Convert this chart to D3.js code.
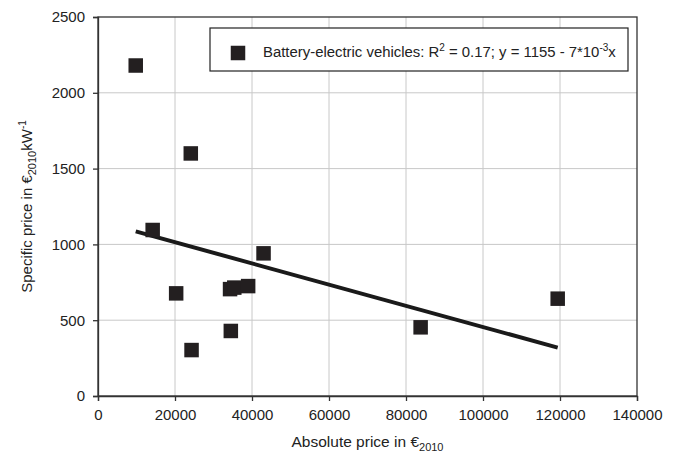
<!DOCTYPE html>
<html>
<head>
<meta charset="utf-8">
<script src="https://cdn.jsdelivr.net/npm/d3@7"></script>
<style>
  body { margin: 0; background: #fff; }
  svg { font-family: "Liberation Sans", Arial, sans-serif; }
</style>
</head>
<body>
<div id="container"></div>
<script>
// absolute price (EUR 2010) and specific price (EUR 2010 per kW)
const absPrice = [9800, 24100, 14200, 20300, 24300, 34500, 34300, 35400, 39000, 43000, 83800, 119400];
const specPrice = [2180, 1600, 1095, 677, 303, 429, 705, 715, 725, 941, 453, 642];
const trendX = [9800, 119400];
const trendY = [1086, 319];
const xTicks = [0, 20000, 40000, 60000, 80000, 100000, 120000, 140000];
const yTicks = [0, 500, 1000, 1500, 2000, 2500];

const width = 678;
const height = 458;
const margin = { top: 17, right: 41, bottom: 62, left: 98 };

const svg = d3.select('#container')
              .append('svg')
              .attr('width', width)
              .attr('height', height);

const x = d3.scaleLinear().domain([0, 140000]).range([margin.left, width - margin.right]);
const y = d3.scaleLinear().domain([0, 2500]).range([height - margin.bottom, margin.top]);

// grid
svg.append('g')
   .selectAll('line')
   .data(xTicks.slice(1, -1))
   .enter()
   .append('line')
   .attr('x1', d => x(d)).attr('x2', d => x(d))
   .attr('y1', y(0)).attr('y2', y(2500))
   .attr('stroke', '#c8c8c8').attr('stroke-width', 1);
svg.append('g')
   .selectAll('line')
   .data(yTicks.slice(1, -1))
   .enter()
   .append('line')
   .attr('x1', x(0)).attr('x2', x(140000))
   .attr('y1', d => y(d)).attr('y2', d => y(d))
   .attr('stroke', '#c8c8c8').attr('stroke-width', 1);

// frame
svg.append('rect')
   .attr('x', x(0)).attr('y', y(2500))
   .attr('width', x(140000) - x(0)).attr('height', y(0) - y(2500))
   .attr('fill', 'none').attr('stroke', '#333').attr('stroke-width', 1.3);

const xAxis = svg.append('g')
                 .attr('transform', 'translate(0,' + y(0) + ')')
                 .call(d3.axisBottom(x).tickValues(xTicks).tickFormat(d3.format('d')).tickSizeOuter(0).tickSize(5).tickPadding(8));
const yAxis = svg.append('g')
                 .attr('transform', 'translate(' + x(0) + ',0)')
                 .call(d3.axisLeft(y).tickValues(yTicks).tickFormat(d3.format('d')).tickSizeOuter(0).tickSize(5).tickPadding(8));
[xAxis, yAxis].forEach(a => {
    a.select('.domain').attr('stroke', '#333').attr('stroke-width', 1.3);
    a.selectAll('.tick line').attr('stroke', '#333').attr('stroke-width', 1.3);
    a.selectAll('.tick text').attr('font-size', 15).attr('fill', '#222')
     .attr('font-family', '"Liberation Sans", Arial, sans-serif');
});

// trend line
svg.append('line')
   .attr('x1', x(trendX[0])).attr('y1', y(trendY[0]))
   .attr('x2', x(trendX[1])).attr('y2', y(trendY[1]))
   .attr('stroke', '#1a1a1a').attr('stroke-width', 4);

// points
const s = 14.5;
svg.append('g')
   .selectAll('rect')
   .data(absPrice.map((d, i) => [d, specPrice[i]]))
   .enter()
   .append('rect')
   .attr('x', d => x(d[0]) - s / 2)
   .attr('y', d => y(d[1]) - s / 2)
   .attr('width', s).attr('height', s)
   .attr('fill', '#231f20');

// legend
const legend = svg.append('g');
legend.append('rect')
      .attr('x', 210).attr('y', 28).attr('width', 418).attr('height', 43)
      .attr('fill', '#fff').attr('stroke', '#222').attr('stroke-width', 1.2);
legend.append('rect')
      .attr('x', 238 - s / 2).attr('y', 53 - s / 2).attr('width', s).attr('height', s)
      .attr('fill', '#231f20');
const lt = legend.append('text')
                 .attr('x', 263).attr('y', 57)
                 .attr('font-size', 14.9).attr('fill', '#222');
lt.append('tspan').text('Battery-electric vehicles: R');
lt.append('tspan').attr('dy', -6).attr('font-size', 10).text('2');
lt.append('tspan').attr('dy', 6).text(' = 0.17; y = 1155 - 7*10');
lt.append('tspan').attr('dy', -6).attr('font-size', 10).text('-3');
lt.append('tspan').attr('dy', 6).text('x');

// axis titles
const xt = svg.append('text')
              .attr('x', (x(0) + x(140000)) / 2).attr('y', 447)
              .attr('text-anchor', 'middle').attr('font-size', 15.5).attr('fill', '#222');
xt.append('tspan').text('Absolute price in €');
xt.append('tspan').attr('dy', 4).attr('font-size', 11).text('2010');

const yt = svg.append('text')
              .attr('transform', 'translate(32,' + (y(0) + y(2500)) / 2 + ') rotate(-90)')
              .attr('text-anchor', 'middle').attr('font-size', 15).attr('fill', '#222');
yt.append('tspan').text('Specific price in €');
yt.append('tspan').attr('dy', 4).attr('font-size', 11).text('2010');
yt.append('tspan').attr('dy', -4).text('kW');
yt.append('tspan').attr('dy', -6).attr('font-size', 10).text('-1');
</script>
</body>
</html>
